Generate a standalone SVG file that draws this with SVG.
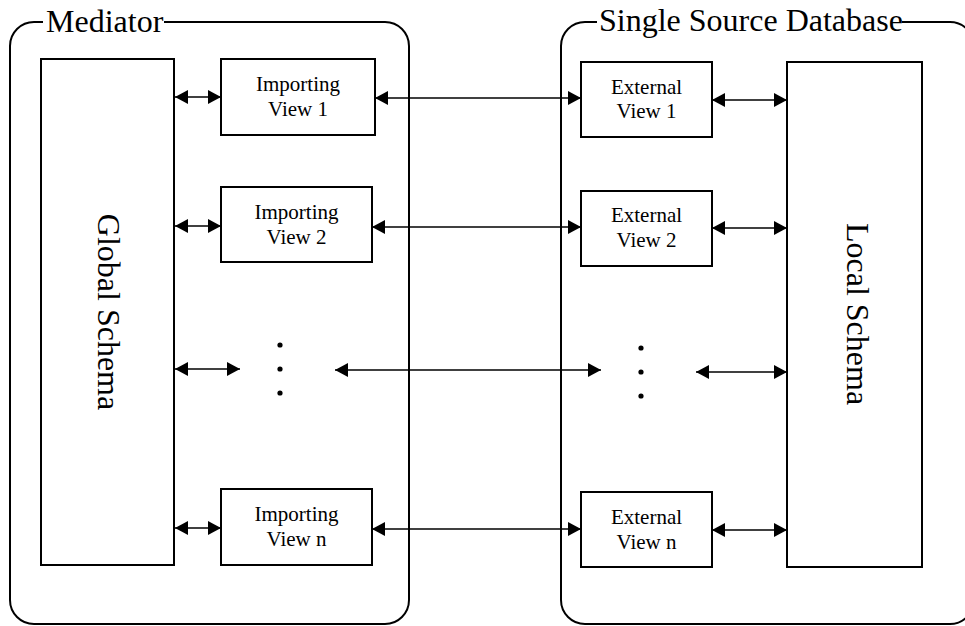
<svg xmlns="http://www.w3.org/2000/svg" width="965" height="626" viewBox="0 0 965 626">
<style>
.cont{fill:none;stroke:#000;stroke-width:2}
.box{fill:#fff;stroke:#000;stroke-width:2}
.t{font-family:"Liberation Serif","Times New Roman",serif;fill:#000}
.title{font-size:32px}
.lbl{font-size:21px;text-anchor:middle}
.big{font-size:32px;text-anchor:middle}
.conn line{stroke:#000;stroke-width:1.4;marker-start:url(#ah);marker-end:url(#ah)}
</style>
<defs>
<marker id="ah" markerUnits="userSpaceOnUse" markerWidth="14" markerHeight="14" refX="13" refY="7" orient="auto-start-reverse">
<path d="M0,0 L13,7 L0,14 z" fill="#000"/>
</marker>
</defs>
<rect width="965" height="626" fill="#fff"/>
<g id="mediator">
<path class="cont" d="M43,22 H34 A24,24 0 0 0 10,46 V600 A24,24 0 0 0 34,624 H385 A24,24 0 0 0 409,600 V46 A24,24 0 0 0 385,22 H164"/>
<text class="t title" x="46" y="32">Mediator</text>
</g>
<g id="single-source-database">
<path class="cont" d="M597,22 H585 A24,24 0 0 0 561,46 V600 A24,24 0 0 0 585,624 H950 A24,24 0 0 0 974,600 V46 A24,24 0 0 0 950,22 H902"/>
<text class="t title" x="599" y="31">Single Source Database</text>
</g>
<g id="global-schema">
<rect class="box" x="41" y="59" width="133" height="506"/>
<text class="t big" transform="translate(98,312) rotate(90)">Global Schema</text>
</g>
<g id="local-schema">
<rect class="box" x="787" y="62" width="135" height="505"/>
<text class="t big" transform="translate(847,314) rotate(90)">Local Schema</text>
</g>
<g id="importing-view-1">
<rect class="box" x="221" y="59" width="154" height="76"/>
<text class="t lbl" x="298" y="91">Importing</text>
<text class="t lbl" x="298" y="116">View 1</text>
</g>
<g id="importing-view-2">
<rect class="box" x="221" y="187" width="151" height="75"/>
<text class="t lbl" x="296.5" y="219">Importing</text>
<text class="t lbl" x="296.5" y="244">View 2</text>
</g>
<g id="importing-view-n">
<rect class="box" x="221" y="489" width="151" height="76"/>
<text class="t lbl" x="296.5" y="521">Importing</text>
<text class="t lbl" x="296.5" y="546">View n</text>
</g>
<g id="external-view-1">
<rect class="box" x="581" y="62" width="131" height="75"/>
<text class="t lbl" x="646.5" y="94">External</text>
<text class="t lbl" x="646.5" y="118">View 1</text>
</g>
<g id="external-view-2">
<rect class="box" x="581" y="191" width="131" height="75"/>
<text class="t lbl" x="646.5" y="222">External</text>
<text class="t lbl" x="646.5" y="247">View 2</text>
</g>
<g id="external-view-n">
<rect class="box" x="581" y="492" width="131" height="75"/>
<text class="t lbl" x="646.5" y="524">External</text>
<text class="t lbl" x="646.5" y="549">View n</text>
</g>
<g id="ellipsis-left" fill="#000">
<circle cx="280" cy="345" r="2.6"/>
<circle cx="280" cy="369" r="2.6"/>
<circle cx="280" cy="393" r="2.6"/>
</g>
<g id="ellipsis-right" fill="#000">
<circle cx="641" cy="348" r="2.6"/>
<circle cx="641" cy="372" r="2.6"/>
<circle cx="641" cy="396" r="2.6"/>
</g>
<g id="connectors" class="conn">
<line x1="175" y1="97" x2="221" y2="97"/>
<line x1="375" y1="98" x2="581" y2="98"/>
<line x1="712" y1="100" x2="787" y2="100"/>
<line x1="175" y1="226" x2="221" y2="226"/>
<line x1="372" y1="227" x2="581" y2="227"/>
<line x1="712" y1="228" x2="787" y2="228"/>
<line x1="175" y1="369" x2="240" y2="369"/>
<line x1="335" y1="370" x2="601" y2="370"/>
<line x1="696" y1="372" x2="787" y2="372"/>
<line x1="175" y1="528" x2="221" y2="528"/>
<line x1="372" y1="529" x2="581" y2="529"/>
<line x1="712" y1="530" x2="787" y2="530"/>
</g>
</svg>
